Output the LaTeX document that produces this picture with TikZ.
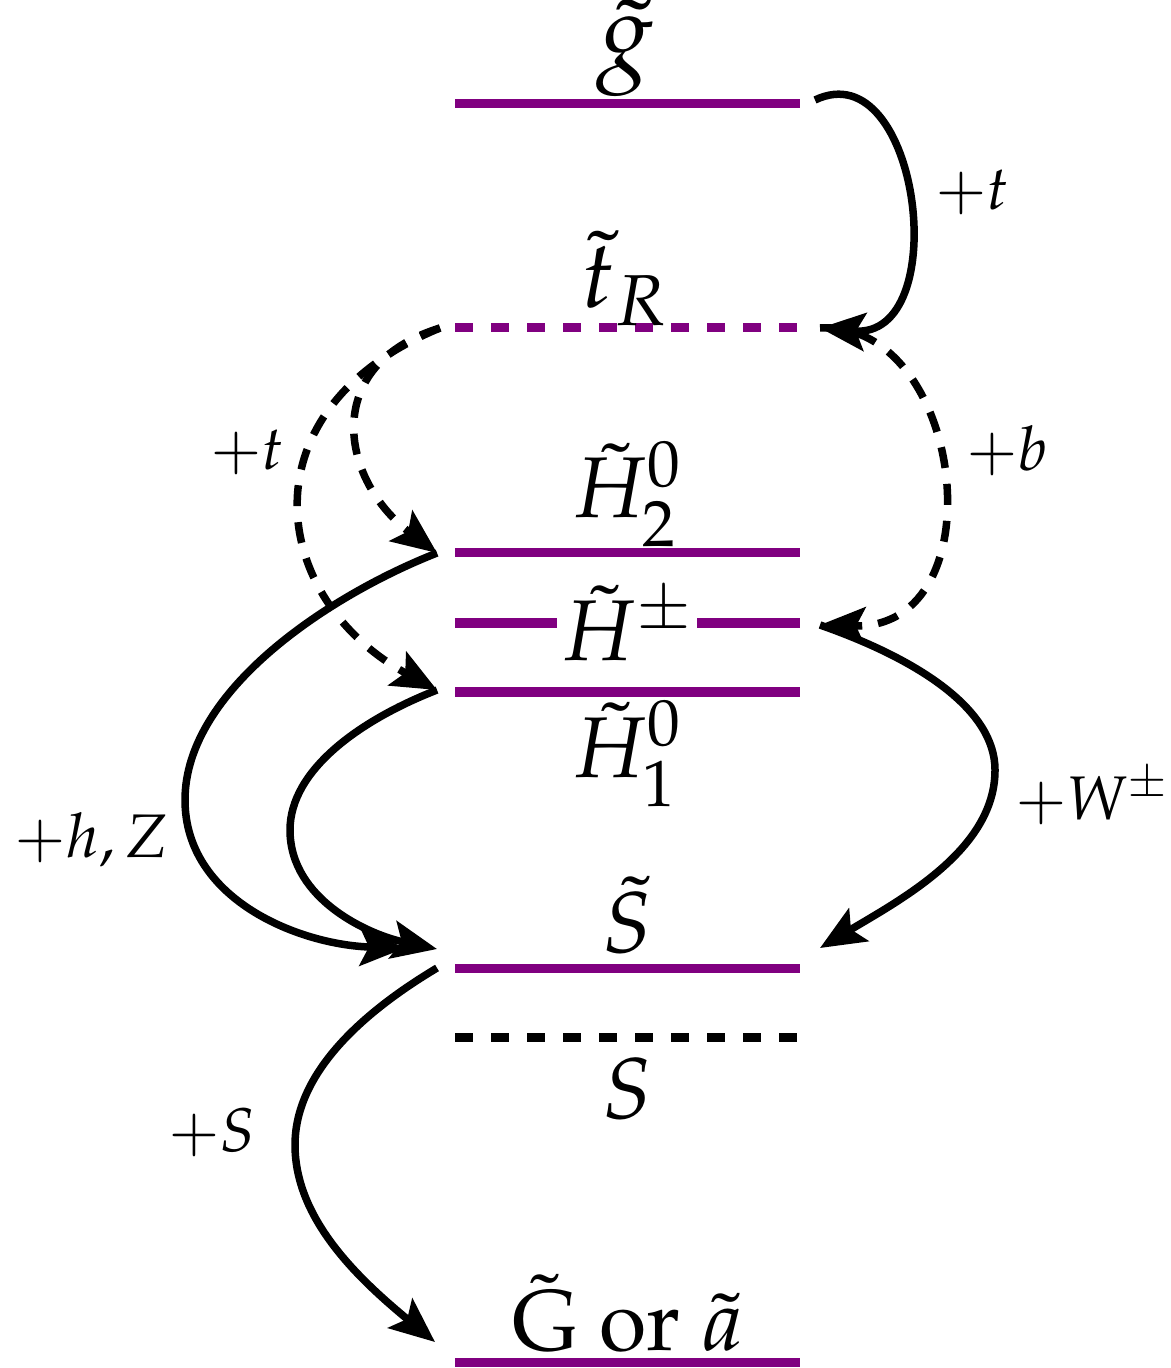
\documentclass[tikz,border=0pt]{standalone}
\usepackage[T1]{fontenc}
\usepackage{mathpazo}
\usepackage{tikz}
\usetikzlibrary{arrows.meta}
\definecolor{levelpurple}{RGB}{128, 0, 128}
\tikzset{
  lvl/.style = {draw=levelpurple, line width=0.09cm},
  lvldash/.style = {
    draw=#1, line width=0.09cm,
    dash pattern=on 0.18cm off 0.18cm
  },
  lvldash/.default = levelpurple,
  arr/.style = {
    -{Stealth[length=0.45cm, width=0.38cm, inset=0.09cm]},
    draw=black, line width=0.075cm
  },
  arrdash/.style = {arr, dash pattern=on 0.21cm off 0.16cm},
  mlbl/.style = {anchor=base, inner sep=0pt, font=\fontsize{24.5}{28}\selectfont},
  plbl/.style = {anchor=base, inner sep=0pt, font=\fontsize{17.5}{20}\selectfont},
}

\begin{document}
\begin{tikzpicture}[x=0.01cm, y=-0.01cm]
  \useasboundingbox (0,0) rectangle (1170,1368);

  % level ends
  \coordinate (gl-w) at (455,104);   \coordinate (gl-e) at (800,104);
  \coordinate (tr-w) at (455,328);   \coordinate (tr-e) at (800,328);
  \coordinate (h2-w) at (455,553);   \coordinate (h2-e) at (800,553);
  \coordinate (hc-w) at (455,623);   \coordinate (hc-e) at (800,623);
  \coordinate (h1-w) at (455,692);   \coordinate (h1-e) at (800,692);
  \coordinate (ss-w) at (455,968);   \coordinate (ss-e) at (800,968);
  \coordinate (sc-w) at (455,1037);  \coordinate (sc-e) at (800,1037);
  \coordinate (gr-w) at (455,1362);  \coordinate (gr-e) at (800,1362);

  % ports for the transitions
  \coordinate (gl-out) at (815,100);
  \coordinate (tr-in)  at (820,328);
  \coordinate (tr-out) at (440,328);
  \coordinate (h2-in)  at (437,553);
  \coordinate (h1-in)  at (437,690);
  \coordinate (hc-in)  at (820,625);
  \coordinate (ss-inl) at (437,949);
  \coordinate (ss-inr) at (820,948);
  \coordinate (ss-out) at (437,968);
  \coordinate (gr-in)  at (435,1342);

  % levels
  \draw[lvl] (gl-w) -- (gl-e);
  \draw[lvldash] (tr-w) -- (tr-e);
  \draw[lvl] (h2-w) -- (h2-e);
  \draw[lvl] (hc-w) -- (557,623);
  \draw[lvl] (697,623) -- (hc-e);
  \draw[lvl] (h1-w) -- (h1-e);
  \draw[lvl] (ss-w) -- (ss-e);
  \draw[lvldash=black] (sc-w) -- (sc-e);
  \draw[lvl] (gr-w) -- (gr-e);

  \node[mlbl, font=\fontsize{30}{33}\selectfont] (gl) at (626,68) {$\tilde{g}$};
  \node[mlbl, font=\fontsize{27}{30}\selectfont] (tr) at (625,308) {$\tilde{t}_R$};
  \node[mlbl] (h2) at (627,518) {$\tilde{H}^0_2$};
  \node[mlbl] (hc) at (627,660) {$\tilde{H}^{\pm}$};
  \node[mlbl] (h1) at (627,777) {$\tilde{H}^0_1$};
  \node[mlbl] (ss) at (627,952) {$\tilde{S}$};
  \node[mlbl] (sc) at (627,1118) {$S$};
  \node[mlbl] (gr) at (628,1350) {$\tilde{\mathrm{G}}$ or $\tilde{a}$};

  % dashed transitions
  \draw[arrdash] (tr-in) .. controls (965,320) and (1000,630) .. (hc-in);
  \draw[arrdash] (tr-out) .. controls (320,365) and (340,480) .. (h2-in);
  \draw[arrdash] (tr-out) .. controls (240,410) and (270,600) .. (h1-in);

  % solid transitions
  \draw[arr] (gl-out) .. controls (920,50) and (955,340) .. (tr-in);
  \draw[arr, shorten >=0.32cm] (h2-in) .. controls (330,595) and (185,690) .. (185,800)
    .. controls (185,900) and (300,945) .. (ss-inl);
  \draw[arr] (h1-in) .. controls (360,720) and (290,770) .. (290,830)
    .. controls (290,900) and (370,935) .. (ss-inl);
  \draw[arr] (hc-in) .. controls (920,660) and (995,710) .. (995,770)
    .. controls (995,850) and (900,900) .. (ss-inr);
  \draw[arr] (ss-out) .. controls (350,1020) and (295,1080) .. (295,1145)
    .. controls (295,1220) and (360,1280) .. (gr-in);

  \node[plbl] (lt1) at (972,210) {$+t$};
  \node[plbl] (lt2) at (247,470) {$+t$};
  \node[plbl] (lb)  at (1007,471) {$+b$};
  \node[plbl] (lhz) at (92,857) {$+h,Z$};
  \node[plbl] (lw)  at (1092,819) {$+W^{\pm}$};
  \node[plbl] (ls)  at (212,1151) {$+S$};
\end{tikzpicture}
\end{document}
